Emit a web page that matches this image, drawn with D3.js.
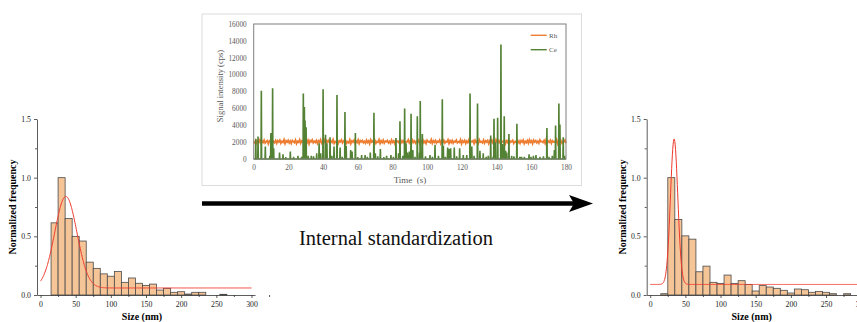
<!DOCTYPE html>
<html>
<head>
<meta charset="utf-8">
<script src="https://cdn.jsdelivr.net/npm/d3@7"></script>
<style>
  html, body { margin: 0; padding: 0; background: #fff; }
  svg { display: block; }
  svg text { font-family: 'Liberation Serif', 'Times New Roman', serif; }
</style>
</head>
<body>
<svg id="chart" width="857" height="322"></svg>
<script>
// histogram bins are 10 nm wide, labelled by the bin centre
const binCenters = [20, 30, 40, 50, 60, 70, 80, 90, 100, 110, 120, 130, 140, 150, 160, 170, 180, 190, 200, 210, 220, 230, 240, 250, 260, 270, 280];
const beforeFreq = [0.615, 1.0, 0.652, 0.50, 0.46, 0.28, 0.227, 0.18, 0.16, 0.20, 0.108, 0.145, 0.10, 0.082, 0.093, 0.042, 0.057, 0.023, 0.028, 0.008, 0.023, 0.023, 0, 0, 0.006, 0, 0];
const afterFreq = [0.011, 1.0, 0.643, 0.504, 0.476, 0.198, 0.246, 0.108, 0.099, 0.17, 0.099, 0.122, 0.09, 0.034, 0.08, 0.068, 0.057, 0.04, 0.017, 0.051, 0.045, 0.023, 0.031, 0.023, 0.011, 0, 0.011];
// gaussian fits: [y0, A, xc, sigma]
const beforeFit = [0.06, 0.78, 36, 15.8];
const afterFit = [0.09, 1.24, 34, 5.2];
const sizeTicks = [0, 50, 100, 150, 200, 250, 300];
const freqTicks = [0, 0.5, 1.0, 1.5];

// time trace (Rh internal standard and Ce spikes)
const rhValues = [
2080,1920,2210,1870,2150,1990,2260,1840,2120,1960,2230,1890,2050,2180,1810,2140,2010,2270,1900,2090,
1950,2200,1860,2170,2030,2240,1880,2110,1970,2290,1830,2160,2000,2220,1910,2130,1850,2190,2060,1940,
2250,1820,2100,1980,2280,1870,2140,2020,2210,1890,2070,1930,2230,1800,2180,2040,2260,1920,2110,1960,
2200,1850,2150,1990,2270,1880,2090,1940,2240,1830,2170,2010,2220,1900,2130,1970,2300,1860,2080,1950,
2190,1840,2160,2030,2250,1910,2120,1980,2210,1870,2060,1920,2280,1820,2140,2000,2230,1890,2100,1960,
2260,1850,2180,2040,2200,1930,2090,1880,2240,1970,2150,1810,2270,2020,2130,1900,2210,1860,2070,1990,
2290,1840,2160,1950,2230,1880,2110,2030,2190,1920,2080,1870,2250,1980,2140,1830,2220,2010,2100,1940,
2270,1890,2170,1960,2200,1850,2060,2040,2280,1910,2130,1820,2240,1990,2150,1880,2090,1970,2210,1860,
2180,2000,2260,1930,2120,1840,2230,2050,2070,1950,2300,1870,2160,1980,2190,1900,2100,2020,2250,1830,
2140,1960,2220,1890,2080,2010,2270,1850,2170,1940,2200,1880,2110,2030,2240,1920,2060,1970,2290,1810,
2150,1990,2210,1860,2130,1950,2260,1900,2090,2040,2180,1840,2230,1980,2120,1870,2280,2000,2070,1930,
2250,1890,2160,2020,2200,1820,2140,1960,2240,1910,2100,1850,2270,2010,2170,1940,2190,1880,2080,2050,
2220,1830,2150,1970,2290,1900,2110,2030,2210,1860,2060,1990,2260,1920,2130,1870,2180,2000,2240,1840,
2090,1950,2200,1890,2270,1980,2140,1810,2230,2020,2170,1930,2110,1880,2250,2040,2080,1960,2190,1850,
2300,1910,2120,1990,2220,1870,2160,2010,2060,1940,2280,1830,2150,1970,2210,1900,2100,2050,2240,1880
];
const ceSpikes = [
[1.2,2300],[2.5,2600],[4.4,8000],[6.7,1400],[9.3,300],[9.9,3000],[10.9,8300],[11.5,1200],[14.9,700],[16.9,500],
[18.5,150],[21.1,800],[23.0,200],[25.5,300],[27.6,200],[28.6,7700],[29.2,6100],[29.6,4500],[30.2,3700],[31.4,300],
[33.2,300],[34.5,250],[36.3,600],[37.7,1800],[38.6,600],[40.0,8200],[41.4,2800],[42.2,1800],[44.0,2500],[45.0,300],
[46.3,1400],[48.0,7500],[49.8,1300],[51.0,200],[52.6,5500],[53.3,1500],[55.9,1000],[56.7,800],[58.6,3000],[60.0,150],
[62.2,400],[64.2,400],[65.5,200],[67.2,700],[69.3,5400],[70.1,600],[71.5,250],[73.0,1100],[75.0,150],[76.6,300],
[79.1,400],[80.5,200],[82.0,2400],[83.5,600],[84.3,4400],[86.0,300],[87.0,5900],[87.8,1800],[88.6,700],[89.7,800],
[90.7,5300],[91.7,1000],[93.0,200],[94.3,5000],[95.6,700],[96.0,6800],[97.2,2900],[99.0,250],[101.6,400],[103.0,200],
[104.5,1600],[106.5,300],[108.7,7000],[109.3,1500],[110.5,200],[111.8,1300],[112.8,1100],[113.5,1200],[115.6,1300],[117.0,250],
[118.7,1200],[120.8,400],[122.8,400],[124.7,7700],[125.7,1400],[127.0,300],[129.0,6500],[130.4,900],[132.3,600],[134.0,200],
[135.2,300],[136.6,2700],[138.0,200],[138.5,4700],[139.3,1900],[140.6,4800],[142.5,13500],[143.3,1700],[144.4,5000],[145.2,900],
[145.8,700],[147.1,2900],[148.7,300],[150.0,250],[151.7,4100],[153.4,200],[154.4,200],[156.0,200],[158.7,500],[159.8,200],
[161.2,300],[162.7,400],[165.0,200],[167.0,250],[169.0,3600],[170.2,200],[172.1,300],[173.3,1000],[174.0,3900],[175.9,6500],
[176.5,4000],[178.4,2500],[179.2,300]
];
const timeTicks = [0, 20, 40, 60, 80, 100, 120, 140, 160, 180];
const signalTicks = [0, 2000, 4000, 6000, 8000, 10000, 12000, 14000, 16000];

const svg = d3.select('#chart');
const serif = "'Liberation Serif', 'Times New Roman', serif";

function gauss(p, x) {
  const [y0, A, xc, s] = p;
  return y0 + A * Math.exp(-((x - xc) ** 2) / (2 * s * s));
}

function histogram(x0, freq, fit, fitEnd) {
  const x = d3.scaleLinear().domain([-5, 305]).range([x0, x0 + 218]);
  const y = d3.scaleLinear().domain([0, 1.5]).range([295, 119]);
  const g = svg.append('g');

  g.selectAll('rect.bar').data(binCenters.map((c, i) => [c, freq[i]]).filter(d => d[1] > 0))
    .join('rect')
      .attr('class', 'bar')
      .attr('x', d => x(d[0] - 5))
      .attr('width', d => x(d[0] + 5) - x(d[0] - 5))
      .attr('y', d => y(d[1]))
      .attr('height', d => y(0) - y(d[1]))
      .attr('fill', '#f5c497')
      .attr('stroke', '#4a4a4a')
      .attr('stroke-width', 0.8);

  const fx = d3.range(0, fitEnd + 0.25, 0.5);
  g.append('path')
    .datum(fx)
    .attr('fill', 'none')
    .attr('stroke', '#f0392b')
    .attr('stroke-width', 1)
    .attr('d', d3.line().x(d => x(d)).y(d => y(gauss(fit, d))));

  // axes
  g.append('g').attr('transform', 'translate(0,295)')
    .call(d3.axisBottom(x).tickValues(sizeTicks).tickSize(3).tickSizeOuter(0).tickPadding(3));
  g.append('g').attr('transform', 'translate(0,295)')
    .call(d3.axisBottom(x).tickValues(sizeTicks.map(v => v + 25)).tickSize(2).tickSizeOuter(0).tickFormat(''))
    .select('.domain').remove();
  g.append('g').attr('transform', `translate(${x0},0)`)
    .call(d3.axisLeft(y).tickValues(freqTicks).tickFormat(d3.format('.1f')).tickSize(3).tickSizeOuter(0).tickPadding(3));
  g.append('g').attr('transform', `translate(${x0},0)`)
    .call(d3.axisLeft(y).tickValues([0.25, 0.75, 1.25]).tickSize(2).tickSizeOuter(0).tickFormat(''))
    .select('.domain').remove();
  g.selectAll('g').attr('font-family', null);
  g.selectAll('.domain, .tick line').attr('stroke', '#333').attr('stroke-width', 0.8);
  g.selectAll('.tick text').style('font-family', serif).attr('font-size', 7.8).attr('fill', '#222');

  g.append('text')
    .attr('x', x(150) - 4).attr('y', 319.5)
    .attr('text-anchor', 'middle')
    .style('font-family', serif).attr('font-weight', 'bold').attr('font-size', 10)
    .text('Size (nm)');
  g.append('text')
    .attr('transform', `translate(${x0 - 21},207) rotate(-90)`)
    .attr('text-anchor', 'middle')
    .style('font-family', serif).attr('font-weight', 'bold').attr('font-size', 10)
    .text('Normalized frequency');
}

histogram(37, beforeFreq, beforeFit, 300);
histogram(646.7, afterFreq, afterFit, 320);

// middle panel: time-resolved signal
svg.append('rect')
  .attr('x', 202).attr('y', 14).attr('width', 379.5).attr('height', 171.5)
  .attr('fill', '#fff').attr('stroke', '#dcdcdc').attr('stroke-width', 1);

const tx = d3.scaleLinear().domain([0, 180]).range([253.7, 566]);
const ty = d3.scaleLinear().domain([0, 16000]).range([159, 24]);
const mid = svg.append('g');

const rhTimes = rhValues.map((v, i) => i * 180 / (rhValues.length - 1));
mid.append('path')
  .datum(rhValues)
  .attr('fill', 'none')
  .attr('stroke', '#ed7d31')
  .attr('stroke-width', 1.8)
  .attr('d', d3.line().x((d, i) => tx(rhTimes[i])).y(d => ty(d)));

const cePts = [[0, 0]];
ceSpikes.forEach(([t, v]) => { cePts.push([t - 0.25, 0], [t - 0.1, v], [t + 0.1, v], [t + 0.25, 0]); });
cePts.push([180, 0]);
mid.append('path')
  .datum(cePts)
  .attr('fill', 'none')
  .attr('stroke', '#548235')
  .attr('stroke-width', 1.3)
  .attr('d', d3.line().x(d => tx(d[0])).y(d => ty(d[1])));

mid.append('rect')
  .attr('x', tx(0)).attr('y', ty(16000))
  .attr('width', tx(180) - tx(0)).attr('height', ty(0) - ty(16000))
  .attr('fill', 'none').attr('stroke', '#7f7f7f').attr('stroke-width', 1);

mid.append('g').attr('transform', `translate(0,${ty(0)})`)
  .call(d3.axisBottom(tx).tickValues(timeTicks).tickSize(0).tickPadding(5.5));
mid.append('g').attr('transform', `translate(${tx(0)},0)`)
  .call(d3.axisLeft(ty).tickValues(signalTicks).tickFormat(d3.format('d')).tickSize(0).tickPadding(7));
mid.selectAll('g').attr('font-family', null);
mid.selectAll('.domain').remove();
mid.selectAll('.tick text').style('font-family', serif).attr('font-size', 7.3).attr('fill', '#595959');

mid.append('text')
  .attr('x', 410).attr('y', 183)
  .attr('text-anchor', 'middle')
  .style('font-family', serif).style('white-space', 'pre').attr('font-size', 9).attr('fill', '#595959')
  .text('Time  (s)');
mid.append('text')
  .attr('transform', 'translate(223,86) rotate(-90)')
  .attr('text-anchor', 'middle')
  .style('font-family', serif).attr('font-size', 8.5).attr('fill', '#595959')
  .text('Signal intensity (cps)');

const legend = [['Rh', '#ed7d31', 35.3], ['Ce', '#548235', 49.7]];
legend.forEach(([name, color, ly]) => {
  mid.append('line').attr('x1', 530.7).attr('x2', 546.7).attr('y1', ly).attr('y2', ly)
    .attr('stroke', color).attr('stroke-width', 1.4);
  mid.append('text').attr('x', 549).attr('y', ly + 2.5)
    .style('font-family', serif).attr('font-size', 7).attr('fill', '#595959')
    .text(name);
});

// arrow + caption
svg.append('line')
  .attr('x1', 202).attr('x2', 578).attr('y1', 203.5).attr('y2', 203.5)
  .attr('stroke', '#000').attr('stroke-width', 4.5);
svg.append('path')
  .attr('d', 'M593,203.5 L569,195 L574,203.5 L569,212 Z')
  .attr('fill', '#000');
svg.append('text')
  .attr('x', 396).attr('y', 244.5)
  .attr('text-anchor', 'middle')
  .style('font-family', serif).attr('font-size', 20.5).attr('fill', '#111')
  .text('Internal standardization');
</script>
</body>
</html>
